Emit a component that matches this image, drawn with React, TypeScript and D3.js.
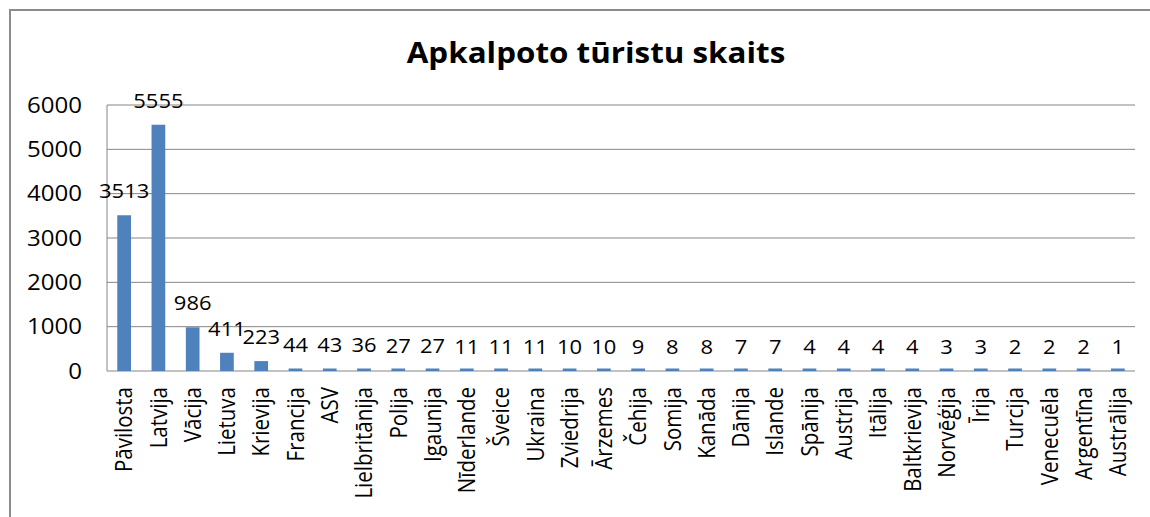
import React from "react";
import * as d3 from "d3";

const categories = [
  "Pāvilosta", "Latvija", "Vācija", "Lietuva", "Krievija", "Francija", "ASV",
  "Lielbritānija", "Polija", "Igaunija", "Nīderlande", "Šveice", "Ukraina",
  "Zviedrija", "Ārzemes", "Čehija", "Somija", "Kanāda", "Dānija", "Islande",
  "Spānija", "Austrija", "Itālija", "Baltkrievija", "Norvēģija", "Īrija",
  "Turcija", "Venecuēla", "Argentīna", "Austrālija",
];
const values = [
  3513, 5555, 986, 411, 223, 44, 43, 36, 27, 27, 11, 11, 11, 10, 10, 9, 8, 8,
  7, 7, 4, 4, 4, 4, 3, 3, 2, 2, 2, 1,
];
const yTicks = [0, 1000, 2000, 3000, 4000, 5000, 6000];
const title = "Apkalpoto tūristu skaits";

const W = 1150;
const H = 517;
const plot = { left: 107, right: 1135, top: 105, bottom: 371 };
const FONT = "'Open Sans', 'Noto Sans', sans-serif";
const SX = 1.12;

export default function App() {
  const x = d3
    .scaleBand<string>()
    .domain(categories)
    .range([plot.left, plot.right])
    .paddingInner(0.6)
    .paddingOuter(0.3);
  const y = d3.scaleLinear().domain([0, 6000]).range([plot.bottom, plot.top]);
  const bw = x.bandwidth();

  return (
    <svg
      width={W}
      height={H}
      style={{ position: "absolute", left: 0, top: 0, background: "#fff" }}
      fontFamily={FONT}
    >
      <rect x={0} y={0} width={W} height={H} fill="#fff" />
      <rect x={10} y={10} width={W + 50} height={H + 50} fill="none" stroke="#8c8c8c" strokeWidth={2} />
      <text
        transform={`translate(596,63) scale(${SX},1)`}
        textAnchor="middle"
        fontSize={28}
        fontWeight="bold"
        fill="#000"
      >
        {title}
      </text>
      {yTicks.map((t) => (
        <g key={t}>
          <line x1={plot.left} x2={plot.right} y1={y(t)} y2={y(t)} stroke="#868686" strokeWidth={1} />
          <text
            transform={`translate(82,${y(t)}) scale(${SX},1)`}
            dy="0.36em"
            textAnchor="end"
            fontSize={21.5}
            fill="#000"
          >
            {t}
          </text>
        </g>
      ))}
      <line x1={plot.left} x2={plot.left} y1={plot.top} y2={plot.bottom} stroke="#868686" strokeWidth={1} />
      {categories.map((c, i) => {
        const bx = x(c)!;
        const cx = bx + bw / 2;
        const top = Math.min(y(values[i]), plot.bottom - 2.5);
        return (
          <g key={c}>
            <rect x={bx} y={top} width={bw} height={plot.bottom - top} fill="#4F81BD" />
            <text
              transform={`translate(${cx},${y(values[i]) - 17}) scale(${SX},1)`}
              textAnchor="middle"
              fontSize={19.6}
              fill="#000"
            >
              {values[i]}
            </text>
            <text
              transform={`translate(${cx},${plot.bottom + 16}) scale(${SX},1) rotate(-90)`}
              textAnchor="end"
              dy="0.36em"
              fontSize={20.5}
              fill="#000"
            >
              {c}
            </text>
          </g>
        );
      })}
    </svg>
  );
}
